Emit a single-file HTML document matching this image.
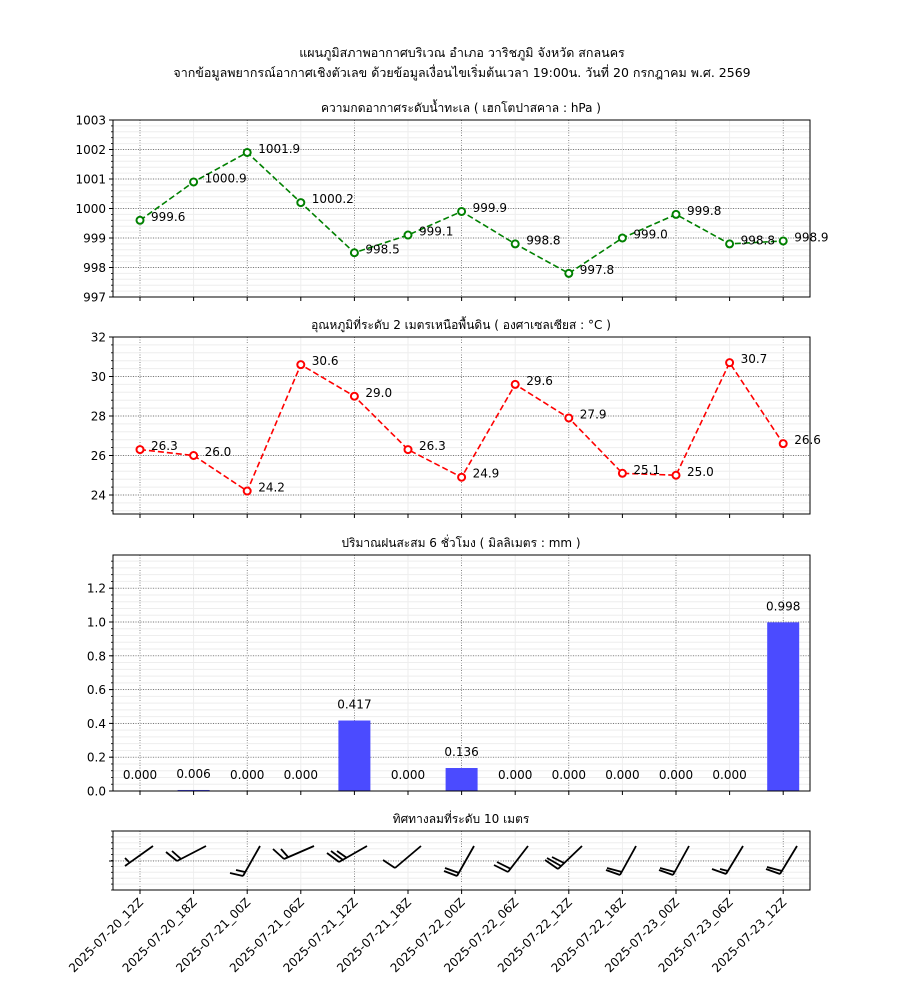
<!DOCTYPE html>
<html><head><meta charset="utf-8"><style>body{margin:0;background:#fff}svg{display:block}</style></head>
<body><svg id="s" width="900" height="1000" xmlns="http://www.w3.org/2000/svg" font-family="DejaVu Sans, Noto Sans CJK SC, sans-serif"></svg>
<script>
var S=document.getElementById('s'),h='';
var L=113,R=810;
var X=[];for(var i=0;i<13;i++)X.push(140+i*53.6);
function t(x,y,s,sz,a,extra){h+='<text x="'+x+'" y="'+y+'" font-size="'+(sz||12)+'" text-anchor="'+(a||'start')+'" '+(extra||'')+'>'+s+'</text>';}
function ln(x1,y1,x2,y2,st){h+='<line x1="'+x1+'" y1="'+y1+'" x2="'+x2+'" y2="'+y2+'" '+st+'/>';}
function frame(T,B,title){
 for(var i=1;i<13;i+=2)ln(X[i],T,X[i],B,'stroke="#eee" stroke-width="1"');
 for(var i=0;i<13;i+=2)ln(X[i],T,X[i],B,'stroke="#555" stroke-width="0.7" stroke-dasharray="1,1.5"');
 for(var i=0;i<13;i++)ln(X[i],B,X[i],B+4,'stroke="#000"');
 t(461,T-8,title,12,'middle');
}
function yax(T,B,v0,v1,maj,nmin){
 var f=function(v){return B-(v-v0)/(v1-v0)*(B-T);};
 var step=maj/nmin;
 for(var v=v0;v<=v1+1e-9;v+=step){var y=f(v);ln(L,y,R,y,'stroke="#eee" stroke-width="1"');ln(L-2,y,L,y,'stroke="#000" stroke-width="0.8"');}
 return f;
}
function majors(f,vals,fmt,T,B){vals.forEach(function(v){var y=f(v);if(y>T+1&&y<B-1)ln(L,y,R,y,'stroke="#555" stroke-width="0.7" stroke-dasharray="1,1.5"');ln(L-4,y,L,y,'stroke="#000"');t(L-7,y+4.5,fmt(v),12,'end');});}
function box(T,B){h+='<rect x="'+L+'" y="'+T+'" width="'+(R-L)+'" height="'+(B-T)+'" fill="none" stroke="#000" stroke-width="1"/>';}
t(462,57,'แผนภูมิสภาพอากาศบริเวณ อำเภอ วาริชภูมิ จังหวัด สกลนคร',12.5,'middle');
t(462,77,'จากข้อมูลพยากรณ์อากาศเชิงตัวเลข ด้วยข้อมูลเงื่อนไขเริ่มต้นเวลา 19:00น. วันที่ 20 กรกฎาคม พ.ศ. 2569',12.5,'middle');
var P=[999.6,1000.9,1001.9,1000.2,998.5,999.1,999.9,998.8,997.8,999.0,999.8,998.8,998.9];
frame(120,297,'ความกดอากาศระดับน้ำทะเล ( เฮกโตปาสคาล : hPa )');
var f=yax(120,297,997,1003,1,5);majors(f,[997,998,999,1000,1001,1002,1003],function(v){return v;},120,297);
function series(D,f,c){var p=D.map(function(v,i){return X[i]+','+f(v);}).join(' ');
 h+='<polyline points="'+p+'" fill="none" stroke="'+c+'" stroke-width="1.6" stroke-dasharray="6,3"/>';
 D.map(function(v,i){h+='<circle cx="'+X[i]+'" cy="'+f(v)+'" r="3.5" fill="#fff" stroke="'+c+'" stroke-width="2"/>';t(X[i]+11,f(v)+0.5,v.toFixed(1),12);});}
series(P,f,'#008000');box(120,297);
var Tm=[26.3,26.0,24.2,30.6,29.0,26.3,24.9,29.6,27.9,25.1,25.0,30.7,26.6];
frame(337,514,'อุณหภูมิที่ระดับ 2 เมตรเหนือพื้นดิน ( องศาเซลเซียส : °C )');
f=function(v){return 495-(v-24)*19.75;};
for(var v=23.2;v<=32;v+=0.4){var y=f(v);ln(L,y,R,y,'stroke="#eee"');ln(L-2,y,L,y,'stroke="#000" stroke-width="0.8"');}
majors(f,[24,26,28,30,32],function(v){return v;},337,514);
series(Tm,f,'#ff0000');box(337,514);
var Rn=[0,0.006,0,0,0.417,0,0.136,0,0,0,0,0,0.998];
frame(555,791,'ปริมาณฝนสะสม 6 ชั่วโมง ( มิลลิเมตร : mm )');
f=yax(555,791,0,1.3964,0.2,5);
majors(f,[0,0.2,0.4,0.6,0.8,1.0,1.2],function(v){return v.toFixed(1);},555,791);
Rn.forEach(function(v,i){var y=f(v);h+='<rect x="'+(X[i]-16)+'" y="'+y+'" width="32" height="'+(791-y)+'" fill="#4b4bff"/>';t(X[i],y-12,v.toFixed(3),12,'middle');});
box(555,791);
frame(831,890,'ทิศทางลมที่ระดับ 10 เมตร');
for(var y=831;y<=890;y+=5.9){ln(L,y,R,y,'stroke="#eee"');ln(L-2,y,L,y,'stroke="#000" stroke-width="0.8"');}
ln(L,861,R,861,'stroke="#555" stroke-width="0.7" stroke-dasharray="1,1.5"');ln(L-4,861,L,861,'stroke="#000"');
var W=[[125,866,153,846,[[129,862,125,858]]],
[177,861,206,846,[[177,861,166,852],[181,859,172,851]]],
[243,876,260,846,[[243,876,230,873],[245,872,236,870]]],
[284,859,314,846,[[284,859,273,849],[288,857,281,849]]],
[339,862,367,846,[[339,862,327,853],[343,860,331,851],[347,858,337,851]]],
[395,868,421,846,[[395,868,383,860]]],
[457,876,474,846,[[457,876,444,871],[459,873,445,868]]],
[508,872,528,846,[[508,872,494,865],[511,869,497,862]]],
[558,869,582,846,[[558,869,545,860],[561,866,547,858],[564,863,552,857]]],
[620,875,636,846,[[620,875,606,870],[622,872,607,868]]],
[673,875,689,846,[[673,875,659,870],[675,872,660,868]]],
[726,874,743,846,[[726,874,712,869],[728,871,720,869]]],
[780,874,797,846,[[780,874,766,869],[782,871,767,867]]]];
W.forEach(function(w){ln(w[0],w[1],w[2],w[3],'stroke="#000" stroke-width="1.8"');w[4].forEach(function(b){ln(b[0],b[1],b[2],b[3],'stroke="#000" stroke-width="1.8"');});});
box(831,890);
var lab=['2025-07-20_12Z','2025-07-20_18Z','2025-07-21_00Z','2025-07-21_06Z','2025-07-21_12Z','2025-07-21_18Z','2025-07-22_00Z','2025-07-22_06Z','2025-07-22_12Z','2025-07-22_18Z','2025-07-23_00Z','2025-07-23_06Z','2025-07-23_12Z'];
lab.forEach(function(s,i){h+='<text x="'+(X[i]+4)+'" y="903" font-size="12" text-anchor="end" transform="rotate(-45 '+(X[i]+4)+' 903)">'+s+'</text>';});
S.innerHTML=h;
</script></body></html>
